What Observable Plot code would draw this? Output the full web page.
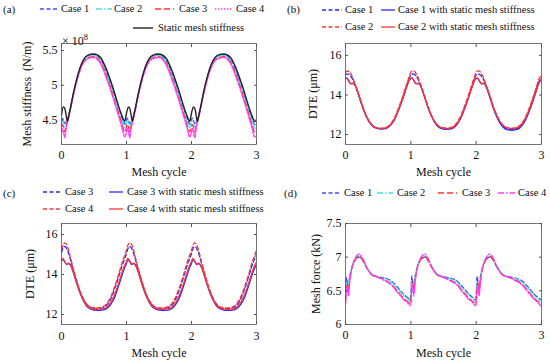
<!DOCTYPE html>
<html><head><meta charset="utf-8">
<script src="https://cdn.jsdelivr.net/npm/d3@7"></script>
<script src="https://cdn.jsdelivr.net/npm/@observablehq/plot@0.6"></script>
<style>
body{margin:0;background:#fff;}
#fig{position:relative;width:550px;height:361px;overflow:hidden;font-family:"Liberation Serif","Times New Roman",serif;color:#111;}
#fig svg text{font-family:"Liberation Serif","Times New Roman",serif !important;}
.t{position:absolute;white-space:nowrap;line-height:14px;height:14px;}
</style></head><body><div id="fig"></div><script>
// ---------- data ----------
const xTicks = [0, 1, 2, 3];
const stiffTicks = [4.5, 5, 5.5];
const dteTicks = [12, 14, 16];
const forceTicks = [6, 6.5, 7, 7.5];

// panel (a): mesh stiffness (x 1e8 N/m)
const xA = [
0,0.01,0.03,0.05,0.07,0.09,0.12,0.2,0.3,0.4,0.5,0.6,0.7,0.8,0.9,0.94,0.97,
1,1.01,1.03,1.05,1.07,1.09,1.12,1.2,1.3,1.4,1.5,1.6,1.7,1.8,1.9,1.94,1.97,
2,2.01,2.03,2.05,2.07,2.09,2.12,2.2,2.3,2.4,2.5,2.6,2.7,2.8,2.9,2.94,2.97,
3];
const stiff1 = [
4.50,4.53,4.50,4.45,4.48,4.52,4.61,4.95,5.28,5.42,5.44,5.37,5.17,4.90,4.60,4.50,4.44,
4.50,4.53,4.50,4.45,4.48,4.52,4.61,4.95,5.28,5.42,5.44,5.37,5.17,4.90,4.60,4.50,4.44,
4.50,4.53,4.50,4.45,4.48,4.52,4.61,4.95,5.28,5.42,5.44,5.37,5.17,4.90,4.60,4.50,4.44,
4.43];
const stiff2 = [
4.46,4.49,4.46,4.40,4.45,4.50,4.60,4.95,5.27,5.41,5.43,5.35,5.14,4.87,4.57,4.46,4.39,
4.46,4.49,4.46,4.40,4.45,4.50,4.60,4.95,5.27,5.41,5.43,5.35,5.14,4.87,4.57,4.46,4.39,
4.46,4.49,4.46,4.40,4.45,4.50,4.60,4.95,5.27,5.41,5.43,5.35,5.14,4.87,4.57,4.46,4.39,
4.38];
const stiff3 = [
4.40,4.44,4.40,4.33,4.41,4.48,4.59,4.94,5.26,5.39,5.41,5.33,5.11,4.83,4.53,4.41,4.33,
4.40,4.44,4.40,4.33,4.41,4.48,4.59,4.94,5.26,5.39,5.41,5.33,5.11,4.83,4.53,4.41,4.33,
4.40,4.44,4.40,4.33,4.41,4.48,4.59,4.94,5.26,5.39,5.41,5.33,5.11,4.83,4.53,4.41,4.33,
4.32];
const stiff4 = [
4.33,4.38,4.33,4.25,4.37,4.46,4.58,4.93,5.25,5.38,5.40,5.31,5.08,4.80,4.49,4.36,4.26,
4.33,4.38,4.33,4.25,4.37,4.46,4.58,4.93,5.25,5.38,5.40,5.31,5.08,4.80,4.49,4.36,4.26,
4.33,4.38,4.33,4.25,4.37,4.46,4.58,4.93,5.25,5.38,5.40,5.31,5.08,4.80,4.49,4.36,4.26,
4.26];
const stiffStatic = [
4.57,4.64,4.69,4.67,4.58,4.48,4.60,4.96,5.29,5.43,5.45,5.40,5.21,4.94,4.64,4.54,4.48,
4.60,4.64,4.69,4.67,4.58,4.48,4.60,4.96,5.29,5.43,5.45,5.40,5.21,4.94,4.64,4.54,4.48,
4.60,4.64,4.69,4.67,4.58,4.48,4.60,4.96,5.29,5.43,5.45,5.40,5.21,4.94,4.64,4.54,4.48,
4.50];

// panels (b), (c): DTE (um)
const xB = [
0,0.02,0.05,0.08,0.11,0.14,0.18,0.22,0.27,0.32,0.38,0.45,0.55,0.63,0.7,0.76,0.82,0.88,0.93,0.97,
1,1.02,1.05,1.08,1.11,1.14,1.18,1.22,1.27,1.32,1.38,1.45,1.55,1.63,1.7,1.76,1.82,1.88,1.93,1.97,
2,2.02,2.05,2.08,2.11,2.14,2.18,2.22,2.27,2.32,2.38,2.45,2.55,2.63,2.7,2.76,2.82,2.88,2.93,2.97,
3];
const dte1 = [
15.00,15.05,15.05,14.95,14.80,14.58,14.22,13.82,13.32,12.92,12.57,12.36,12.30,12.34,12.53,12.85,13.33,13.88,14.40,14.78,
15.02,15.06,15.05,14.95,14.80,14.58,14.22,13.82,13.32,12.92,12.57,12.35,12.29,12.33,12.52,12.84,13.32,13.87,14.40,14.78,
15.02,15.06,15.04,14.95,14.80,14.58,14.22,13.80,13.30,12.90,12.55,12.33,12.27,12.31,12.50,12.82,13.30,13.85,14.38,14.75,
14.85];
const dte1s = [
14.82,14.85,14.70,14.56,14.58,14.52,14.20,13.80,13.30,12.90,12.55,12.35,12.28,12.32,12.50,12.82,13.30,13.85,14.35,14.70,
14.84,14.85,14.70,14.56,14.58,14.52,14.20,13.80,13.30,12.90,12.54,12.32,12.26,12.30,12.48,12.80,13.28,13.83,14.33,14.68,
14.82,14.84,14.70,14.56,14.58,14.50,14.18,13.77,13.27,12.87,12.50,12.28,12.22,12.26,12.44,12.76,13.24,13.80,14.30,14.66,
14.75];
const dte2 = [
15.12,15.20,15.20,15.08,14.88,14.62,14.25,13.85,13.35,12.95,12.60,12.38,12.32,12.38,12.58,12.92,13.42,13.98,14.50,14.88,
15.15,15.22,15.20,15.08,14.88,14.62,14.25,13.85,13.35,12.95,12.60,12.38,12.32,12.38,12.58,12.92,13.42,13.98,14.50,14.88,
15.15,15.22,15.20,15.08,14.88,14.62,14.25,13.85,13.35,12.95,12.60,12.38,12.32,12.38,12.58,12.92,13.42,13.98,14.50,14.88,
14.95];
const dte2s = [
14.85,14.86,14.72,14.58,14.60,14.52,14.22,13.82,13.33,12.93,12.58,12.37,12.30,12.35,12.53,12.85,13.33,13.88,14.38,14.72,
14.85,14.86,14.72,14.58,14.60,14.52,14.22,13.82,13.33,12.93,12.58,12.37,12.30,12.35,12.53,12.85,13.33,13.88,14.38,14.72,
14.85,14.86,14.72,14.58,14.60,14.52,14.22,13.82,13.33,12.93,12.58,12.37,12.30,12.35,12.53,12.85,13.33,13.88,14.38,14.72,
14.80];
const dte3 = [
15.10,15.30,15.40,15.30,15.05,14.72,14.25,13.80,13.28,12.86,12.52,12.33,12.28,12.32,12.48,12.80,13.30,13.90,14.42,14.78,
15.05,15.28,15.40,15.30,15.05,14.72,14.25,13.80,13.28,12.86,12.52,12.33,12.28,12.32,12.48,12.80,13.30,13.90,14.42,14.78,
15.05,15.28,15.40,15.30,15.05,14.72,14.25,13.80,13.28,12.86,12.52,12.33,12.28,12.32,12.48,12.80,13.30,13.90,14.42,14.78,
15.00];
const dte3s = [
14.68,14.76,14.62,14.50,14.55,14.45,14.12,13.70,13.20,12.80,12.45,12.27,12.21,12.22,12.30,12.52,12.88,13.45,13.95,14.32,
14.55,14.75,14.64,14.50,14.55,14.45,14.12,13.70,13.20,12.80,12.45,12.27,12.21,12.22,12.30,12.52,12.88,13.45,13.95,14.32,
14.55,14.75,14.64,14.50,14.55,14.45,14.12,13.70,13.20,12.80,12.45,12.27,12.21,12.22,12.30,12.52,12.88,13.45,13.95,14.30,
14.50];
const dte4 = [
15.25,15.45,15.58,15.50,15.20,14.82,14.32,13.85,13.33,12.90,12.56,12.37,12.33,12.38,12.56,12.90,13.42,14.02,14.58,14.95,
15.22,15.45,15.58,15.50,15.20,14.82,14.32,13.85,13.33,12.90,12.56,12.37,12.33,12.38,12.56,12.90,13.42,14.02,14.58,14.95,
15.22,15.45,15.58,15.50,15.20,14.82,14.32,13.85,13.33,12.90,12.56,12.37,12.33,12.38,12.56,12.90,13.42,14.02,14.58,14.95,
15.20];
const dte4s = [
14.72,14.80,14.65,14.52,14.57,14.48,14.15,13.73,13.23,12.83,12.50,12.31,12.26,12.28,12.38,12.62,13.02,13.58,14.08,14.45,
14.65,14.80,14.68,14.52,14.57,14.48,14.15,13.73,13.23,12.83,12.50,12.31,12.26,12.28,12.38,12.62,13.02,13.58,14.08,14.45,
14.65,14.80,14.68,14.52,14.57,14.48,14.15,13.73,13.23,12.83,12.50,12.31,12.26,12.28,12.38,12.62,13.02,13.58,14.08,14.45,
14.62];

// panel (d): mesh force (kN)
const xD = [
0,0.015,0.03,0.045,0.06,0.09,0.13,0.17,0.21,0.26,0.32,0.4,0.5,0.6,0.7,0.8,0.9,0.95,0.985,
1,1.015,1.03,1.045,1.06,1.09,1.13,1.17,1.21,1.26,1.32,1.4,1.5,1.6,1.7,1.8,1.9,1.95,1.985,
2,2.015,2.03,2.045,2.06,2.09,2.13,2.17,2.21,2.26,2.32,2.4,2.5,2.6,2.7,2.8,2.9,2.95,2.985,
3];
const force1 = [
6.45,6.70,6.60,6.55,6.68,6.82,6.93,6.98,7.00,6.96,6.85,6.75,6.71,6.69,6.65,6.55,6.44,6.40,6.37,
6.45,6.72,6.60,6.55,6.68,6.82,6.93,6.98,7.00,6.96,6.85,6.75,6.71,6.69,6.65,6.55,6.44,6.40,6.37,
6.45,6.72,6.60,6.55,6.68,6.82,6.93,6.98,7.00,6.96,6.85,6.75,6.71,6.69,6.65,6.55,6.44,6.40,6.37,
6.38];
const force2 = [
6.40,6.62,6.52,6.50,6.66,6.82,6.94,7.00,7.02,6.97,6.86,6.75,6.70,6.68,6.63,6.53,6.42,6.38,6.35,
6.40,6.62,6.52,6.50,6.66,6.82,6.94,7.00,7.02,6.97,6.86,6.75,6.70,6.68,6.63,6.53,6.42,6.38,6.35,
6.40,6.62,6.52,6.50,6.66,6.82,6.94,7.00,7.02,6.97,6.86,6.75,6.70,6.68,6.63,6.53,6.42,6.38,6.35,
6.36];
const force3 = [
6.35,6.55,6.62,6.45,6.60,6.80,6.93,6.99,7.01,6.96,6.85,6.74,6.70,6.66,6.60,6.49,6.38,6.34,6.31,
6.35,6.55,6.62,6.45,6.60,6.80,6.93,6.99,7.01,6.96,6.85,6.74,6.70,6.66,6.60,6.49,6.38,6.34,6.31,
6.35,6.55,6.62,6.45,6.60,6.80,6.93,6.99,7.01,6.96,6.85,6.74,6.70,6.66,6.60,6.49,6.38,6.34,6.31,
6.30];
const force4 = [
6.30,6.50,6.58,6.42,6.58,6.80,6.95,7.02,7.05,6.99,6.86,6.74,6.70,6.65,6.59,6.47,6.36,6.32,6.28,
6.30,6.50,6.58,6.42,6.58,6.80,6.95,7.02,7.05,6.99,6.86,6.74,6.70,6.65,6.59,6.47,6.36,6.32,6.28,
6.30,6.50,6.58,6.42,6.58,6.80,6.95,7.02,7.05,6.99,6.86,6.74,6.70,6.65,6.59,6.47,6.36,6.32,6.28,
6.27];

// ---------- styles ----------
const C = {
  blueA: "#4a4aff", cyan: "#44e4e4", red: "#ff3535", mag: "#ff3cff", blue: "#2a2aff", black: "#222"
};
const D = { dash: "4,2.5", dashdot: "6,2,1.5,2", longdash: "6,3", dot: "1.4,1.6", solid: null };

const fig = document.getElementById("fig");
const mk = (xs, ys) => xs.map((x, i) => ({x, y: ys[i]}));

function panel(o) {
  const lines = o.series.map(s => Plot.line(mk(o.xs, s.ys), {
    x: "x", y: "y", stroke: s.color, strokeWidth: s.w || 1.3,
    strokeDasharray: s.dash || undefined, curve: "monotone-x", clip: true
  }));
  const svg = Plot.plot({
    width: o.width, height: o.height,
    marginLeft: o.ml, marginRight: o.mr, marginTop: o.mt, marginBottom: o.mb,
    style: {fontFamily: "'Liberation Serif','Times New Roman',serif", fontSize: "12px", color: "#111", background: "none", overflow: "visible"},
    x: {domain: [0, 3]},
    y: {domain: o.yDomain},
    marks: [
      ...lines,
      Plot.frame({stroke: "#555", strokeWidth: 0.8}),
      Plot.axisX({ticks: xTicks, tickSize: -3, tickPadding: o.xPad, tickFormat: d => String(d),
        label: "Mesh cycle", labelAnchor: "center", labelOffset: o.xLab, labelArrow: "none", stroke: "#555"}),
      Plot.axisX({anchor: "top", ticks: xTicks, tickSize: -3, tickFormat: () => "", label: null, stroke: "#555"}),
      Plot.axisY({ticks: o.yTicks, tickSize: -3, tickPadding: 7, tickFormat: d => String(d),
        label: o.yLabel, labelAnchor: "center", labelOffset: o.yLab, labelArrow: "none", stroke: "#555"}),
      Plot.axisY({anchor: "right", ticks: o.yTicks, tickSize: -3, tickFormat: () => "", label: null, stroke: "#555"})
    ]
  });
  svg.style.position = "absolute";
  svg.style.left = o.left + "px";
  svg.style.top = o.top + "px";
  fig.appendChild(svg);
}

panel({left: 0, top: 30, width: 275, height: 150, ml: 61, mr: 19, mt: 13, mb: 36,
  xs: xA, yDomain: [4.15, 5.6], yTicks: stiffTicks, yLabel: "Mesh stiffness  (N/m)", yLab: 39, xPad: 9, xLab: 31,
  series: [
    {ys: stiff1, color: C.blueA, dash: D.dash},
    {ys: stiff2, color: C.cyan, dash: D.dashdot},
    {ys: stiff3, color: C.red, dash: D.longdash},
    {ys: stiff4, color: C.mag, dash: D.dot, w: 1.5},
    {ys: stiffStatic, color: C.black, w: 1.4}
  ]});
panel({left: 275, top: 30, width: 275, height: 150, ml: 70, mr: 9, mt: 13, mb: 36,
  xs: xB, yDomain: [11.5, 16.6], yTicks: dteTicks, yLabel: "DTE (μm)", yLab: 37, xPad: 9, xLab: 31,
  series: [
    {ys: dte1, color: C.blue, dash: D.dash},
    {ys: dte1s, color: C.blue},
    {ys: dte2, color: C.red, dash: D.dash},
    {ys: dte2s, color: C.red}
  ]});
panel({left: 0, top: 210, width: 275, height: 151, ml: 61, mr: 19, mt: 13, mb: 37,
  xs: xB, yDomain: [11.5, 16.55], yTicks: dteTicks, yLabel: "DTE (μm)", yLab: 36, xPad: 10, xLab: 32,
  series: [
    {ys: dte3, color: C.blue, dash: D.dash},
    {ys: dte3s, color: C.blue},
    {ys: dte4, color: C.red, dash: D.dash},
    {ys: dte4s, color: C.red}
  ]});
panel({left: 275, top: 210, width: 275, height: 151, ml: 70, mr: 9, mt: 13, mb: 37,
  xs: xD, yDomain: [6, 7.5], yTicks: forceTicks, yLabel: "Mesh force (kN)", yLab: 34, xPad: 9, xLab: 32,
  series: [
    {ys: force1, color: C.blueA, dash: D.dash},
    {ys: force2, color: C.cyan, dash: D.dashdot},
    {ys: force3, color: C.red, dash: D.longdash},
    {ys: force4, color: C.mag, dash: D.dashdot}
  ]});

// ---------- legends & labels ----------
const NS = "http://www.w3.org/2000/svg";
const ov = document.createElementNS(NS, "svg");
ov.setAttribute("width", 550); ov.setAttribute("height", 361);
ov.style.position = "absolute"; ov.style.left = "0"; ov.style.top = "0"; ov.style.pointerEvents = "none";
fig.appendChild(ov);
function text(t, x, y, size) {
  const d = document.createElement("div");
  d.className = "t"; d.textContent = t;
  d.style.left = x + "px"; d.style.top = (y - 7) + "px"; d.style.fontSize = size + "px";
  fig.appendChild(d); return d;
}
function swatch(x1, x2, y, color, dash, w) {
  const l = document.createElementNS(NS, "line");
  l.setAttribute("x1", x1); l.setAttribute("x2", x2); l.setAttribute("y1", y); l.setAttribute("y2", y);
  l.setAttribute("stroke", color); l.setAttribute("stroke-width", w || 1.3);
  if (dash) l.setAttribute("stroke-dasharray", dash);
  ov.appendChild(l);
}
function item(x1, x2, tx, y, color, dash, label, w) { swatch(x1, x2, y, color, dash, w); text(label, tx, y, 10.5); }

text("(a)", 3, 9, 11); text("(b)", 287, 9, 11); text("(c)", 3, 193, 11); text("(d)", 284, 193, 11);

item(40, 58, 61, 9, C.blueA, D.dash, "Case 1");
item(96, 112, 114, 9, C.cyan, D.dashdot, "Case 2");
item(155, 174, 179, 9, C.red, D.longdash, "Case 3");
item(215, 233, 236, 9, C.mag, D.dot, "Case 4", 1.5);
item(133, 153, 158, 28, C.black, null, "Static mesh stiffness", 1.4);

item(322, 342, 345, 10, C.blue, D.dash, "Case 1");
item(381, 395, 398, 10, C.blue, null, "Case 1 with static mesh stiffness");
item(322, 342, 345, 27, C.red, D.dash, "Case 2");
item(381, 395, 398, 27, C.red, null, "Case 2 with static mesh stiffness");

item(43, 62, 65, 192, C.blue, D.dash, "Case 3");
item(109, 123, 127, 192, C.blue, null, "Case 3 with static mesh stiffness");
item(43, 62, 65, 209, C.red, D.dash, "Case 4");
item(109, 123, 127, 209, C.red, null, "Case 4 with static mesh stiffness");

item(322, 340, 344, 193, C.blueA, D.dash, "Case 1");
item(377, 393, 397, 193, C.cyan, D.dashdot, "Case 2");
item(438, 457, 462, 193, C.red, D.longdash, "Case 3");
item(498, 515, 518, 193, C.mag, D.dashdot, "Case 4");

const ex = text("", 62, 37, 12);
ex.innerHTML = "× 10<sup style='font-size:8.5px;vertical-align:5px'>8</sup>";
</script></body></html>
